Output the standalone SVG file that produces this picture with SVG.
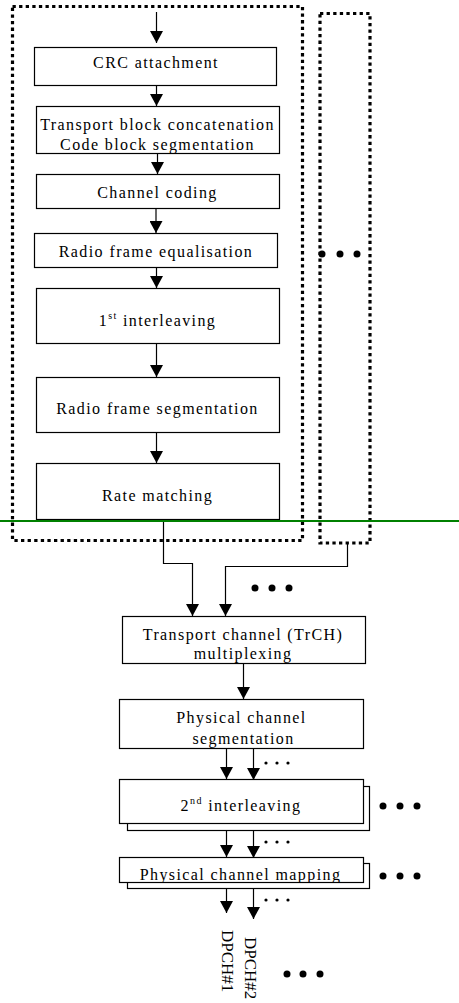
<svg xmlns="http://www.w3.org/2000/svg" width="459" height="1003" viewBox="0 0 459 1003">
<style>
.box{fill:#fff;stroke:#000;stroke-width:1.2}
.dot{fill:none;stroke:#000;stroke-width:3.2;stroke-dasharray:3.3 3.3}
.t{font-family:"Liberation Serif","Times New Roman",serif;font-size:16px;letter-spacing:1.4px;fill:#000;text-anchor:middle}
.d{font-family:"Liberation Serif","Times New Roman",serif;font-size:17px;fill:#000}
.sup{font-size:10px}
.c{fill:none;stroke:#000;stroke-width:1.2}
</style>
<defs>
<marker id="ah" markerUnits="userSpaceOnUse" markerWidth="13" markerHeight="13" refX="12" refY="6.5" orient="auto">
<path d="M0,0 L12,6.5 L0,13 z" fill="#000"/>
</marker>
<clipPath id="cTB"><rect x="36" y="106" width="243" height="47"/></clipPath>
<clipPath id="cTR"><rect x="122" y="616" width="243" height="47"/></clipPath>
<clipPath id="cPS"><rect x="119" y="699" width="244" height="49"/></clipPath>
<clipPath id="cPM"><rect x="119" y="857" width="244" height="25"/></clipPath>
</defs>
<rect width="459" height="1003" fill="#fff"/>

<g id="frame-trch1">
<rect class="dot" x="12.5" y="6.5" width="290" height="534"/>
</g>
<g id="frame-trch2">
<rect class="dot" x="320" y="13.5" width="50" height="529.5"/>
<circle cx="322" cy="254" r="3.5"/><circle cx="340" cy="254" r="3.5"/><circle cx="357" cy="254" r="3.5"/>
</g>

<g id="connectors">
<path class="c" d="M156.5,12 V43" marker-end="url(#ah)"/>
<path class="c" d="M156.5,85 V106" marker-end="url(#ah)"/>
<path class="c" d="M157.5,153 V174" marker-end="url(#ah)"/>
<path class="c" d="M156,208 V233" marker-end="url(#ah)"/>
<path class="c" d="M156.5,267 V288" marker-end="url(#ah)"/>
<path class="c" d="M156.5,343 V377" marker-end="url(#ah)"/>
<path class="c" d="M156.5,432 V463" marker-end="url(#ah)"/>
<path class="c" d="M163.5,519 V563.5 H192.5 V616" marker-end="url(#ah)"/>
<path class="c" d="M347.5,543 V566.5 H225.5 V616" marker-end="url(#ah)"/>
<path class="c" d="M243.5,663 V699" marker-end="url(#ah)"/>
<path class="c" d="M226.5,748 V779" marker-end="url(#ah)"/>
<path class="c" d="M253.5,748 V780" marker-end="url(#ah)"/>
<path class="c" d="M226.5,830 V857" marker-end="url(#ah)"/>
<path class="c" d="M253.5,830 V858" marker-end="url(#ah)"/>
<path class="c" d="M226.5,888 V913" marker-end="url(#ah)"/>
<path class="c" d="M253.5,888 V919" marker-end="url(#ah)"/>
</g>

<g id="crc">
<rect class="box" x="34.5" y="47.5" width="242" height="38"/>
<text class="t" x="156" y="68">CRC attachment</text>
</g>
<g id="tb-concat">
<rect class="box" x="36.5" y="106.5" width="243" height="47"/>
<g clip-path="url(#cTB)">
<text class="t" x="157.5" y="129.5">Transport block concatenation</text>
<text class="t" x="157.5" y="149.5">Code block segmentation</text>
</g>
</g>
<g id="channel-coding">
<rect class="box" x="36.5" y="174.5" width="243" height="34"/>
<text class="t" x="157.5" y="198">Channel coding</text>
</g>
<g id="rf-eq">
<rect class="box" x="34.5" y="233.5" width="243" height="34"/>
<text class="t" x="156" y="257">Radio frame equalisation</text>
</g>
<g id="interleaving1">
<rect class="box" x="36.5" y="288.5" width="243" height="55"/>
<text class="t" x="157.5" y="326">1<tspan class="sup" dy="-7">st</tspan><tspan dy="7"> interleaving</tspan></text>
</g>
<g id="rf-seg">
<rect class="box" x="36.5" y="377.5" width="243" height="55"/>
<text class="t" x="157.5" y="414">Radio frame segmentation</text>
</g>
<g id="rate-matching">
<rect class="box" x="36.5" y="463.5" width="243" height="56"/>
<text class="t" x="157.5" y="501">Rate matching</text>
</g>

<g id="dots-mid">
<circle cx="255" cy="588" r="3.5"/><circle cx="272" cy="588" r="3.5"/><circle cx="289" cy="588" r="3.5"/>
</g>

<g id="trch-mux">
<rect class="box" x="122.5" y="616.5" width="243" height="47"/>
<g clip-path="url(#cTR)">
<text class="t" x="243" y="640">Transport channel (TrCH)</text>
<text class="t" x="243" y="659">multiplexing</text>
</g>
</g>
<g id="phch-seg">
<rect class="box" x="119.5" y="699.5" width="244" height="49"/>
<g clip-path="url(#cPS)">
<text class="t" x="241.5" y="723">Physical channel</text>
<text class="t" x="243.5" y="743.5">segmentation</text>
</g>
</g>
<g id="interleaving2">
<rect class="box" x="127.5" y="786.5" width="242" height="44"/>
<rect class="box" x="119.5" y="779.5" width="244" height="44"/>
<text class="t" x="241" y="811">2<tspan class="sup" dy="-7">nd</tspan><tspan dy="7"> interleaving</tspan></text>
</g>
<g id="phch-map">
<rect class="box" x="127.5" y="863.5" width="242" height="25"/>
<rect class="box" x="119.5" y="857.5" width="244" height="25"/>
<g clip-path="url(#cPM)">
<text class="t" x="240.5" y="880">Physical channel mapping</text>
</g>
</g>

<g id="small-dots">
<circle cx="266" cy="763" r="1.6"/><circle cx="277" cy="763" r="1.6"/><circle cx="288" cy="763" r="1.6"/>
<circle cx="266" cy="842" r="1.6"/><circle cx="277" cy="842" r="1.6"/><circle cx="288" cy="842" r="1.6"/>
<circle cx="266" cy="900" r="1.6"/><circle cx="277" cy="900" r="1.6"/><circle cx="288" cy="900" r="1.6"/>
</g>
<g id="big-dots">
<circle cx="383" cy="806" r="3.5"/><circle cx="400" cy="806" r="3.5"/><circle cx="417" cy="806" r="3.5"/>
<circle cx="383" cy="876" r="3.5"/><circle cx="400" cy="876" r="3.5"/><circle cx="417" cy="876" r="3.5"/>
<circle cx="287" cy="974" r="3.5"/><circle cx="303" cy="974" r="3.5"/><circle cx="320" cy="974" r="3.5"/>
</g>

<g id="dpch1">
<text class="d" transform="translate(222,930) rotate(90)">DPCH#1</text>
</g>
<g id="dpch2">
<text class="d" transform="translate(245,937) rotate(90)">DPCH#2</text>
</g>

<g id="green-line">
<line x1="0" y1="521" x2="459" y2="521" stroke="#008000" stroke-width="2"/>
</g>
</svg>
